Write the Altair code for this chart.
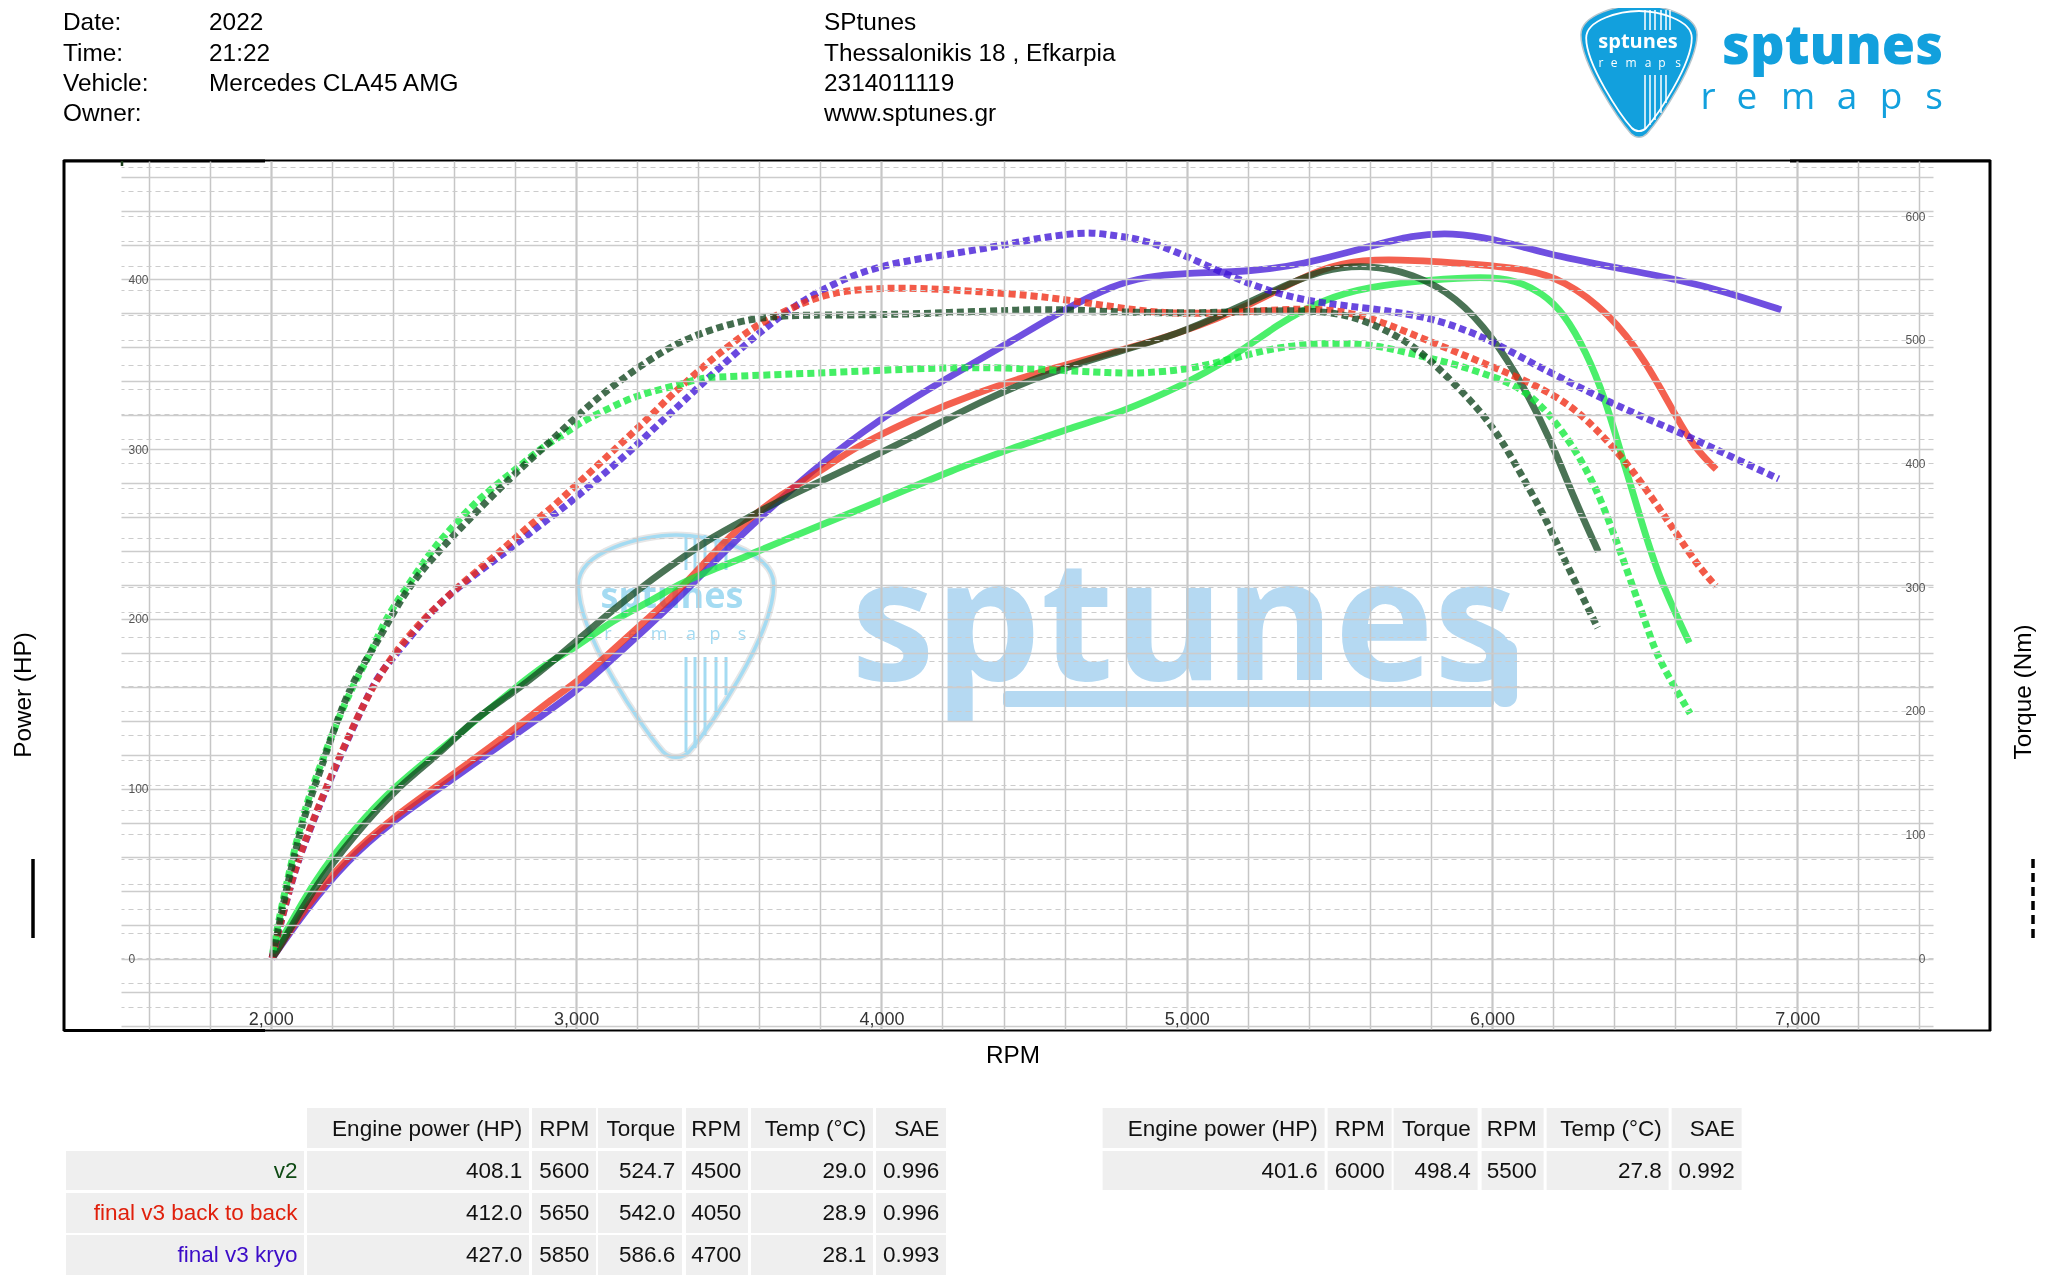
import altair as alt
import pandas as pd

# ---- curve data ------------------------------------------------------------
V2_POWER_RPM = [2006,2030,2137,2275,2412,2563,2663,2794,2904,3013,3122,3231,3340,3449,3559,3668,3886,4104,4323,4541,4760,4978,5126,5301,5446,5594,5739,5885,6003,6105,6193,6266,6348]
V2_POWER_HP = [1,6.6,41,73,100.6,122,140.8,156.5,172,188.8,205.5,221,235,248.6,259,270,288,307,328,344.6,356.5,368,380,394.6,406,408.5,403.6,389.6,366,336.6,305,272,239.6]

B2B_POWER_RPM = [2004,2112,2250,2400,2538,2700,2838,2904,3013,3122,3231,3340,3449,3559,3668,3810,3908,4104,4323,4541,4760,4978,5214,5374,5505,5652,5856,6105,6236,6384,6502,6603,6662,6734]
B2B_POWER_HP = [0,30,60,83,100.7,122,140.8,150.6,164,182,199.6,217,238.8,258,273,288,300.6,318,334,346.6,357,368,385,401,410,412,410,406.6,399.6,380,352.5,319,301,288]

KRYO_POWER_RPM = [2004,2112,2250,2400,2538,2700,2871,3013,3122,3231,3340,3449,3559,3668,3777,3995,4214,4432,4596,4760,4869,4978,5214,5374,5594,5739,5871,6003,6177,6396,6616,6763,6947]
KRYO_POWER_HP = [0,28,58,81,98.5,119,140.8,159,177,194.7,213,233,252.5,270,288,318,341.7,364,382,396.6,401.5,403.5,404.5,408.4,419,426,427.4,424,415,407,399.6,392.7,382]

BASE_POWER_RPM = [2006,2030,2137,2275,2412,2563,2674,2794,2904,2991,3122,3231,3340,3449,3559,3668,3992,4235,4432,4596,4792,4978,5140,5301,5446,5594,5797,5974,6076,6164,6236,6310,6368,6426,6485,6544,6646]
BASE_POWER_HP = [3,9,45,77,102.5,124,140.8,158.4,174,182,199.6,209,221,229,236.8,245.6,269,288,300.6,311,322,336.8,352.5,374,388,395.6,399.6,401.6,399.6,392,380,356.6,331,295.5,260,225,186]

V2_TORQUE_RPM = [2006,2024,2062,2112,2161,2221,2281,2341,2407,2467,2532,2603,2674,2751,2827,2904,2980,3056,3138,3240,3340,3439,3537,3613,3711,3886,4050,4214,4432,4574,4716,5008,5301,5476,5594,5739,5855,5959,6032,6105,6178,6237,6295,6346]
V2_TORQUE_NM = [1,23.7,68,118,150,196,229.5,252,282,305,324,343,361,380,398,415,433,450,466,484,498.6,508,515,518,520,520,520.5,522,524,524.7,523,521,524,523,515,497,470,443.5,419,387,354.7,322,293,267]

B2B_TORQUE_RPM = [2004,2074,2124,2187,2287,2336,2390,2456,2527,2603,2680,2762,2838,2920,2996,3073,3149,3226,3302,3357,3428,3510,3592,3690,3788,3886,4017,4159,4322,4487,4618,4758,4956,5228,5374,5535,5666,5813,5959,6105,6252,6354,6442,6528,6602,6675,6733]
B2B_TORQUE_NM = [0,70,102,142,197,220,241.7,262,280.6,298,314,331,348,364,381.6,399,416.6,434,453,465,481,497,512,524,534.5,540,542,541.5,539,536,532,526.6,520,523,525.6,523,512,497,482.5,467.7,449,424.7,400.5,371,344,317,300.8]

KRYO_TORQUE_RPM = [2004,2074,2124,2187,2292,2347,2401,2467,2543,2625,2712,2794,2876,2958,3040,3122,3198,3275,3351,3449,3559,3646,3744,3854,3995,4159,4323,4487,4618,4694,4745,4862,4978,5096,5213,5330,5446,5594,5769,5885,6003,6120,6237,6368,6500,6631,6792,6939]
KRYO_TORQUE_NM = [0,69,101,141,198.6,227,243,263,284.7,302,318,333,349,364,381,398,414.7,433,450,473,497,515,532,547,560,567,573,581,586,586.6,585,581,570,556.5,544.4,535,529.6,525.6,519.4,510.8,498.6,482.5,467.7,451.6,436.8,423.3,404.5,387.5]

BASE_TORQUE_RPM = [2006,2024,2062,2112,2161,2232,2292,2325,2380,2445,2521,2587,2663,2740,2816,2893,2958,3013,3078,3166,3242,3340,3406,3477,3668,3886,4104,4323,4541,4758,4862,5008,5155,5301,5476,5623,5769,5885,6003,6090,6178,6266,6339,6398,6456,6514,6544,6649]
BASE_TORQUE_NM = [4,28,72,122,155,201,231,245.7,276.6,299.5,328,346.6,367,383,398,414,423,433,441,451.6,458,463.7,469,470,472,474,476.6,478,476,473,473,476,485,494.6,497.8,496,486.6,480,470,462,443.5,414,381.6,344,304,263.5,241.7,197.7]

# ---- text ------------------------------------------------------------------
INFO_LABELS = ["Date:", "Time:", "Vehicle:", "Owner:"]
INFO_VALUES = ["2022", "21:22", "Mercedes CLA45 AMG", ""]
SHOP_LINES = ["SPtunes", "Thessalonikis 18 , Efkarpia", "2314011119", "www.sptunes.gr"]

TABLE_HEAD = ["Engine power (HP)", "RPM", "Torque", "RPM", "Temp (°C)", "SAE"]
TABLE_NAMES = ["v2", "final v3 back to back", "final v3 kryo"]
TABLE_COLORS = ["#0f4a14", "#e0200c", "#3c0cc8"]
TABLE_ROWS = [
    ["408.1", "5600", "524.7", "4500", "29.0", "0.996"],
    ["412.0", "5650", "542.0", "4050", "28.9", "0.996"],
    ["427.0", "5850", "586.6", "4700", "28.1", "0.993"],
]
TABLE2_ROW = ["401.6", "6000", "498.4", "5500", "27.8", "0.992"]

# ---- colours ---------------------------------------------------------------
SERIES_ORDER = ["kryo", "b2b", "base", "v2"]
SERIES_COLORS = ["#3f14d6", "#f02b14", "#0fea3a", "#0e441c"]

# ---- layout (page pixels) --------------------------------------------------
OX, OY = 121, 161          # plot origin on the page
PW, PH = 1812, 868         # plot size
FONT = "Liberation Sans"
BRAND = "Open Sans"
BLANK = alt.Data(values=[{"a": 1}])


def frame(df_list):
    return pd.concat(df_list, ignore_index=True)


def series(name, rpm, vals):
    return pd.DataFrame({"run": name, "rpm": rpm, "value": vals})


def text(s, X, Y, size, color="#000000", align="left", font=FONT, weight="normal", angle=0, **kw):
    return alt.Chart(BLANK).mark_text(
        text=s, align=align, baseline="alphabetic", font=font, fontSize=size,
        fontWeight=weight, color=color, angle=angle, **kw,
    ).encode(x=alt.value(X - OX), y=alt.value(Y - OY))


def box(x0, x1, y0, y1, **kw):
    return alt.Chart(BLANK).mark_rect(**kw).encode(
        x=alt.value(x0 - OX), x2=alt.value(x1 - OX),
        y=alt.value(y0 - OY), y2=alt.value(y1 - OY))


def vline(X, y0, y1, color, width, dash=None, opacity=1):
    kw = {"strokeDash": dash} if dash else {}
    return alt.Chart(BLANK).mark_rule(color=color, strokeWidth=width, opacity=opacity, **kw).encode(
        x=alt.value(X - OX), y=alt.value(y0 - OY), y2=alt.value(y1 - OY))


PICK = ("M-0.88,-0.55 C-0.88,-0.86 -0.3,-1 0,-1 C0.3,-1 0.88,-0.86 0.88,-0.55 "
        "C0.88,-0.1 0.3,0.75 0.12,0.95 C0.05,1.02 -0.05,1.02 -0.12,0.95 "
        "C-0.3,0.75 -0.88,-0.1 -0.88,-0.55 Z")


def pick(X, Y, height, **kw):
    return alt.Chart(BLANK).mark_point(shape=PICK, size=height * height, opacity=1, **kw).encode(
        x=alt.value(X - OX), y=alt.value(Y - OY))


# ---- scales ----------------------------------------------------------------
X_DOMAIN = [1509.3, 7444.4]
HP_DOMAIN = [-41.5, 469.6]
NM_DOMAIN = [-57.4, 644.6]

x_axis = alt.Axis(
    orient="bottom", values=list(range(1600, 7401, 200)), title=None, domain=False, ticks=False,
    grid=True, gridColor="#c6c6c6",
    gridWidth={"condition": {"test": "datum.value % 1000 === 0", "value": 2.2}, "value": 1.5},
    labelExpr="datum.value % 1000 === 0 ? format(datum.value, ',') : ''",
    labelFont=FONT, labelFontSize=18, labelColor="#333333", labelBaseline="alphabetic",
    labelPadding=-5, labelOverlap=False, labelFlush=False, labelBound=False, zindex=1,
)
x_enc = alt.X("rpm:Q", scale=alt.Scale(domain=X_DOMAIN, nice=False, zero=False), axis=x_axis)

hp_scale = alt.Scale(domain=HP_DOMAIN, nice=False, zero=False)
nm_scale = alt.Scale(domain=NM_DOMAIN, nice=False, zero=False)

hp_axis = alt.Axis(
    orient="left", values=list(range(-40, 461, 20)), title=None, domain=False, ticks=False,
    grid=True, gridColor="#cccccc", gridWidth=1.6,
    labelExpr="datum.value >= 0 && datum.value % 100 === 0 ? '' + datum.value : ''",
    labelFont=FONT, labelFontSize=12, labelColor="#555555", labelAlign="left",
    labelPadding=-7, labelOverlap=False, labelFlush=False, labelBound=False, zindex=1,
)
nm_axis = alt.Axis(
    orient="right", values=list(range(-40, 641, 20)), title=None, domain=False, ticks=False,
    grid=True, gridColor="#cccccc", gridWidth=1.2, gridDash=[5, 4],
    labelExpr="datum.value >= 0 && datum.value % 100 === 0 ? '' + datum.value : ''",
    labelFont=FONT, labelFontSize=12, labelColor="#555555", labelAlign="right",
    labelPadding=-8, labelOverlap=False, labelFlush=False, labelBound=False, zindex=1,
)

color_enc = alt.Color("run:N", scale=alt.Scale(domain=SERIES_ORDER, range=SERIES_COLORS), legend=None)

power_df = frame([
    series("kryo", KRYO_POWER_RPM, KRYO_POWER_HP),
    series("b2b", B2B_POWER_RPM, B2B_POWER_HP),
    series("base", BASE_POWER_RPM, BASE_POWER_HP),
    series("v2", V2_POWER_RPM, V2_POWER_HP),
])
torque_df = frame([
    series("kryo", KRYO_TORQUE_RPM, KRYO_TORQUE_NM),
    series("b2b", B2B_TORQUE_RPM, B2B_TORQUE_NM),
    series("base", BASE_TORQUE_RPM, BASE_TORQUE_NM),
    series("v2", V2_TORQUE_RPM, V2_TORQUE_NM),
])

power_lines = alt.Chart(power_df).mark_line(
    strokeWidth=6.8, opacity=0.75, interpolate="basis", strokeCap="butt",
).encode(x=x_enc, y=alt.Y("value:Q", scale=hp_scale, axis=hp_axis), color=color_enc)

torque_lines = alt.Chart(torque_df).mark_line(
    strokeWidth=7, opacity=0.78, interpolate="basis", strokeDash=[7, 4], strokeCap="butt",
).encode(x=x_enc, y=alt.Y("value:Q", scale=nm_scale, axis=nm_axis), color=color_enc)

# white gaps cut into the grid round the y tick labels
hp_halo = alt.Chart(pd.DataFrame({"v": [0, 100, 200, 300, 400]})).mark_text(
    align="left", baseline="middle", font=FONT, fontSize=12, color="white", stroke="white", strokeWidth=5,
).encode(x=alt.value(7), y=alt.Y("v:Q", scale=hp_scale, axis=None), text="v:N")
nm_halo = alt.Chart(pd.DataFrame({"v": [0, 100, 200, 300, 400, 500, 600]})).mark_text(
    align="right", baseline="middle", font=FONT, fontSize=12, color="white", stroke="white", strokeWidth=5,
).encode(x=alt.value(PW - 8), y=alt.Y("v:Q", scale=nm_scale, axis=None), text="v:N")

# ---- watermark -------------------------------------------------------------
WM = "#b5d9f2"
WM2 = "#a4dbf2"
watermark = [
    text("sptunes", 851, 680, 168, color=WM, font=BRAND, weight="bold", blend="darken"),
    box(1003, 1494, 691, 707, color=WM, cornerRadius=4, blend="darken"),
    box(1493, 1517, 640, 707, color=WM, cornerRadius=11, blend="darken"),
    pick(676, 646, 222, stroke="#e6e6e6", strokeWidth=7, filled=False),
    pick(676, 646, 222, stroke=WM2, strokeWidth=3.5, filled=False),
    text("sptunes", 672, 608, 36, color=WM2, font=BRAND, weight="bold", align="center"),
]
for X_, ch in zip([608, 633, 659, 691, 715, 742], "remaps"):
    watermark.append(text(ch, X_, 640, 18, color=WM2, font=BRAND, align="center"))
for X_, y0, y1 in zip([686, 695, 705, 716, 726], [535, 535, 535, 535, 538], [570, 570, 570, 570, 570]):
    watermark.append(vline(X_, y0, y1, WM2, 3))
for X_, y1 in zip([686, 695, 705, 716, 726], [752, 748, 735, 715, 695]):
    watermark.append(vline(X_, 657, y1, WM2, 3))

# ---- brand logo ------------------------------------------------------------
BLUE = "#12a0dd"
logo = [
    pick(1639, 71, 132, fill=BLUE, stroke="#b9c6cc", strokeWidth=1.5, filled=True),
    pick(1639, 71, 120, stroke="white", strokeWidth=1.8, filled=False),
    text("sptunes", 1638, 48, 20, color="white", font=BRAND, weight="bold", align="center"),
    text("sptunes", 1722, 64, 54, color=BLUE, font=BRAND, weight=800),
]
for X_, ch in zip([1601, 1614, 1631, 1648, 1662, 1678], "remaps"):
    logo.append(text(ch, X_, 67, 12, color="white", font=BRAND, align="center"))
for X_ in [1645, 1650, 1655, 1661, 1666, 1670]:
    logo.append(vline(X_, 10, 30, "white", 1.5))
for X_, y1 in zip([1645, 1650, 1655, 1661, 1666], [128, 125, 120, 113, 103]):
    logo.append(vline(X_, 75, y1, "white", 1.5))
for X_, ch in zip([1708, 1747, 1798, 1847, 1891, 1934], "remaps"):
    logo.append(text(ch, X_, 109, 37, color=BLUE, font=BRAND, align="center"))

# ---- page text -------------------------------------------------------------
page = []
for i, base in enumerate([30, 61, 91, 121]):
    page.append(text(INFO_LABELS[i], 63, base, 24.4))
    if INFO_VALUES[i]:
        page.append(text(INFO_VALUES[i], 209, base, 24.4))
    page.append(text(SHOP_LINES[i], 824, base, 24.4))

page += [
    text("RPM", 1013, 1063, 24.3, align="center"),
    text("Power (HP)", 31, 695, 24.3, align="center", angle=270),
    text("Torque (Nm)", 2031, 692, 24.3, align="center", angle=270),
    vline(33, 859, 938, "black", 3.5),
    vline(2033, 859, 938, "black", 3.5, dash=[9, 5]),
    box(64, 1990, 160.5, 1030.5, fill="transparent", stroke="black", strokeWidth=2),
    vline(64, 160, 1031, "black", 3),
    vline(1990, 160, 1031, "black", 3),
    box(64, 265, 159.5, 162.5, color="black"),
    box(1790, 1990, 159.5, 162.5, color="black"),
    box(64, 265, 1029, 1032, color="black"),
    vline(122, 161, 166, "#1c3d1c", 2.5),
]

# ---- tables ----------------------------------------------------------------
COL_EDGES = [(307, 529), (532, 596), (598, 682), (686, 748), (751, 873), (876, 946)]
ROW_BOXES = [(1108, 1148), (1151, 1190), (1193, 1233), (1235, 1275)]
ROW_BASE = [1136, 1178, 1220, 1262]
CELL = "#efefef"
T2_SHIFT = 795.6
TSIZE = 22.5
TPAD = 6.8

tables = []
for j, (x0, x1) in enumerate(COL_EDGES):
    for i, (y0, y1) in enumerate(ROW_BOXES):
        tables.append(box(x0, x1, y0, y1, color=CELL))
    tables.append(text(TABLE_HEAD[j], x1 - TPAD, ROW_BASE[0], TSIZE, color="#111111", align="right"))
    for i, row in enumerate(TABLE_ROWS):
        tables.append(text(row[j], x1 - TPAD, ROW_BASE[i + 1], TSIZE, color="#111111", align="right"))
    for i in range(2):
        y0, y1 = ROW_BOXES[i]
        tables.append(box(x0 + T2_SHIFT, x1 + T2_SHIFT, y0, y1, color=CELL))
    tables.append(text(TABLE_HEAD[j], x1 + T2_SHIFT - TPAD, ROW_BASE[0], TSIZE, color="#111111", align="right"))
    tables.append(text(TABLE2_ROW[j], x1 + T2_SHIFT - TPAD, ROW_BASE[1], TSIZE, color="#111111", align="right"))
for i, name in enumerate(TABLE_NAMES):
    y0, y1 = ROW_BOXES[i + 1]
    tables.append(box(66, 304, y0, y1, color=CELL))
    tables.append(text(name, 297.5, ROW_BASE[i + 1], TSIZE, color=TABLE_COLORS[i], align="right"))

chart = alt.layer(
    *watermark, power_lines, torque_lines, hp_halo, nm_halo, *logo, *page, *tables,
).resolve_scale(y="independent", color="shared").properties(
    width=PW, height=PH,
    padding={"left": OX - 8, "top": OY - 8, "right": 2032 - (OX - 8) - PW, "bottom": 1267 - (OY - 8) - PH},
    autosize=alt.AutoSizeParams(type="none"),
    background="white",
).configure_view(stroke=None)

chart.save("out.html", embed_options={"renderer": "svg", "actions": False})
